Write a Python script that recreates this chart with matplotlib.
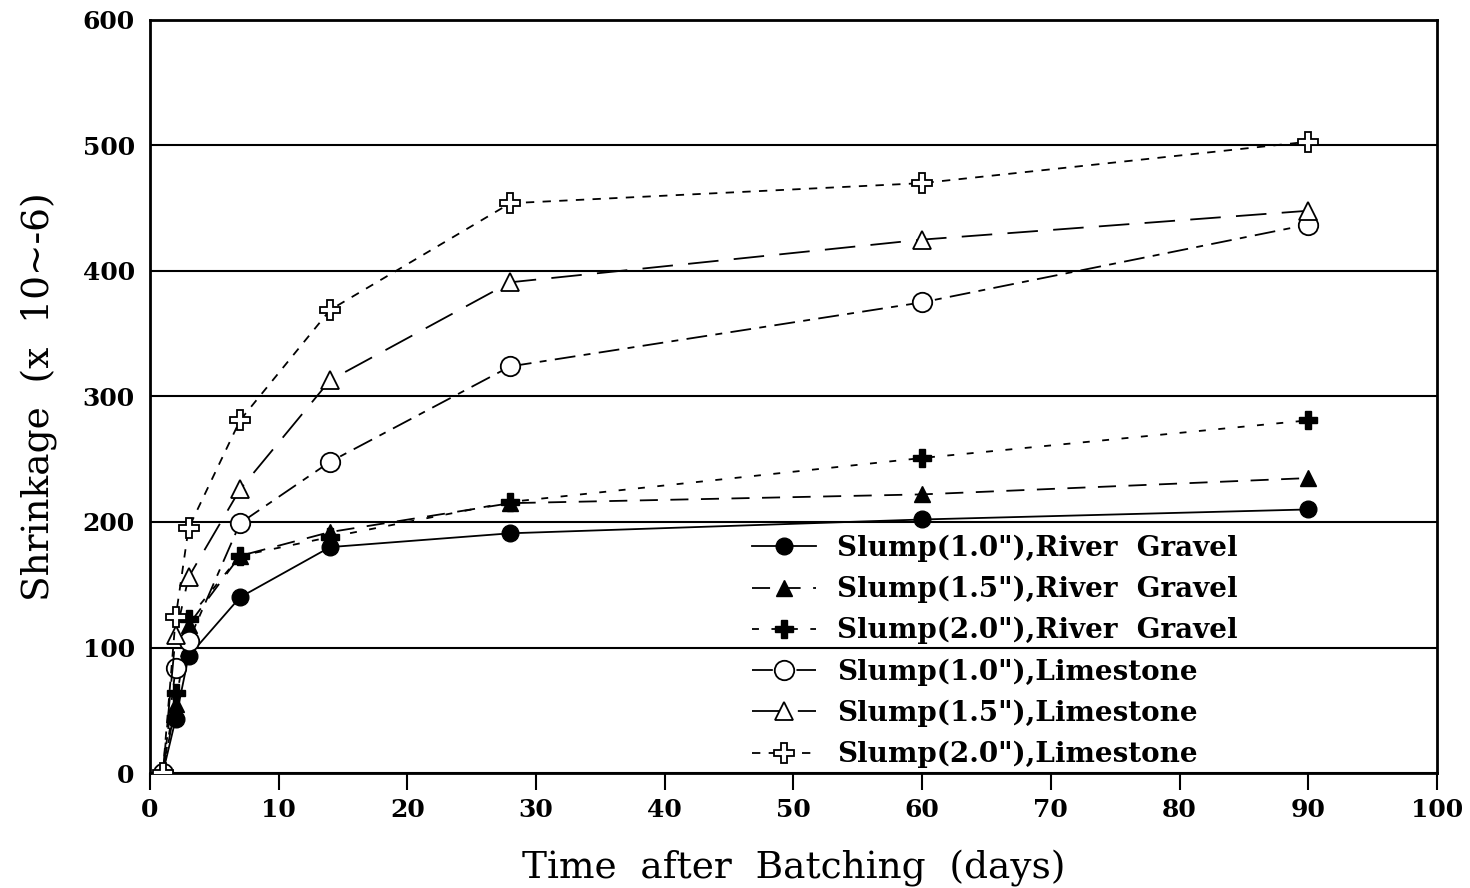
import matplotlib
matplotlib.use("Agg")
import matplotlib.pyplot as plt

plt.rcParams['lines.scale_dashes'] = False

days = [1, 2, 3, 7, 14, 28, 60, 90]
rg10 = [0, 43, 93, 140, 180, 191, 202, 210]
rg15 = [0, 55, 118, 173, 192, 215, 222, 235]
rg20 = [0, 64, 123, 173, 188, 216, 251, 281]
ls10 = [0, 84, 105, 199, 248, 324, 375, 437]
ls15 = [0, 110, 156, 226, 313, 391, 425, 448]
ls20 = [0, 124, 195, 281, 369, 454, 470, 503]

labels = ['Slump(1.0"),River  Gravel', 'Slump(1.5"),River  Gravel', 'Slump(2.0"),River  Gravel',
          'Slump(1.0"),Limestone', 'Slump(1.5"),Limestone', 'Slump(2.0"),Limestone']
xticks = list(range(0, 101, 10))
yticks = list(range(0, 601, 100))

fig = plt.figure(figsize=(14.7, 8.88), dpi=100)
ax = fig.add_axes([0.102, 0.1295, 0.8755, 0.848])

lw = 1.3
ax.plot(days, rg10, color='black', lw=lw, ls='-', marker='o', ms=12, mfc='black', mec='black', label=labels[0], zorder=3)
ax.plot(days, rg15, color='black', lw=lw, ls=(0, (13, 9)), marker='^', ms=12, mfc='black', mec='black', label=labels[1], zorder=3)
ax.plot(days, rg20, color='black', lw=lw, ls=(0, (5, 9)), marker='P', ms=13, mfc='black', mec='black', label=labels[2], zorder=3)
ax.plot(days, ls10, color='black', lw=lw, ls=(0, (15, 6, 5, 6)), marker='o', ms=14, mfc='white', mec='black', mew=1.3, label=labels[3], zorder=3)
ax.plot(days, ls15, color='black', lw=lw, ls=(0, (22, 11)), marker='^', ms=13, mfc='white', mec='black', mew=1.3, label=labels[4], zorder=3)
ax.plot(days, ls20, color='black', lw=lw, ls=(0, (6, 6)), marker='P', ms=14, mfc='white', mec='black', mew=1.3, label=labels[5], zorder=3)

ax.set_xlim(0, 100)
ax.set_ylim(0, 600)
ax.set_xticks(xticks)
ax.set_yticks(yticks)
ax.tick_params(axis='x', direction='out', length=12, width=1.5, pad=6)
ax.tick_params(axis='y', length=0, pad=11)
for lab in ax.get_xticklabels() + ax.get_yticklabels():
    lab.set_fontfamily('DejaVu Serif')
    lab.set_fontweight('bold')
    lab.set_fontsize(18)
ax.yaxis.grid(True, color='black', lw=1.5)
ax.set_axisbelow(True)
for s in ax.spines.values():
    s.set_linewidth(2)
    s.set_color('black')

ax.set_xlabel('Time  after  Batching  (days)', fontfamily='DejaVu Serif', fontsize=27, labelpad=20)
ax.set_ylabel('Shrinkage  (x  10~-6)', fontfamily='DejaVu Serif', fontsize=27, labelpad=18)

leg = ax.legend(loc='upper left', bbox_to_anchor=(0.457, 0.335), frameon=False, borderpad=0,
                handlelength=2.3, handletextpad=0.75, labelspacing=0.5,
                prop={'family': 'DejaVu Serif', 'weight': 'bold', 'size': 20})

fig.savefig('out.png', dpi=100)
